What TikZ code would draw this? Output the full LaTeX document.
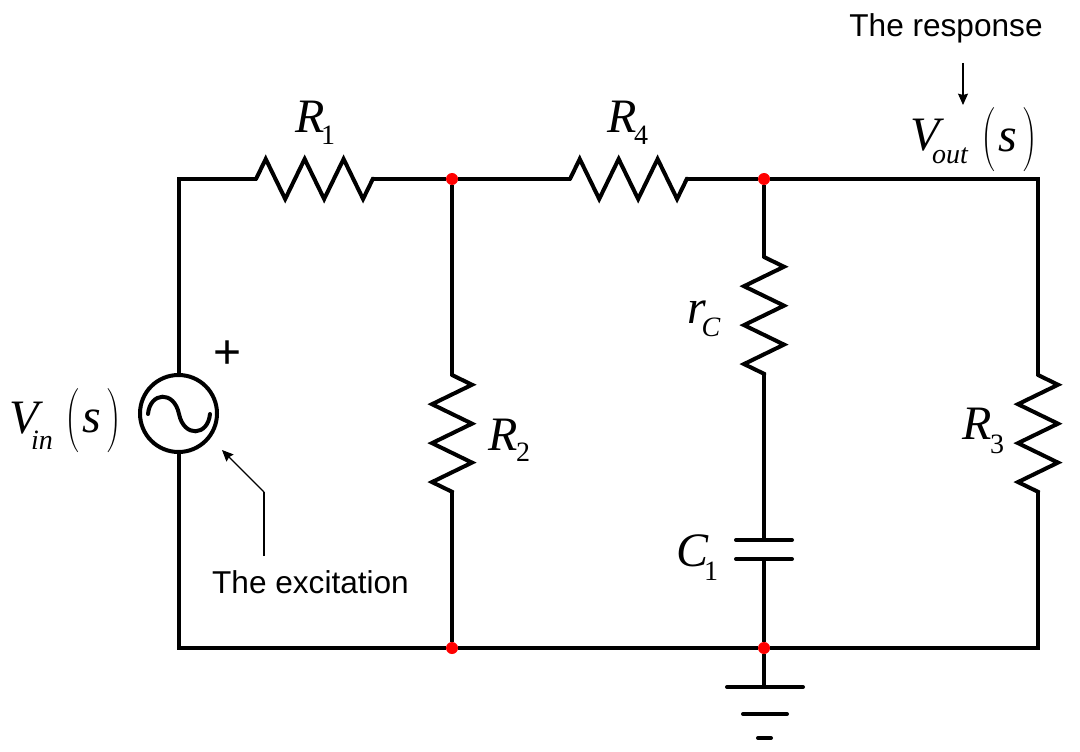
\documentclass[tikz,border=0pt]{standalone}
\usepackage{fontspec}
\setmainfont{Liberation Serif}
\newfontfamily\labelfont{Liberation Sans}
\usetikzlibrary{decorations.pathmorphing,arrows.meta}
\newcommand{\tallparen}[1]{\scalebox{1.3}[1.6]{$\Bigg#1$}}

\begin{document}
\begin{tikzpicture}
[x=0.75pt,y=-0.75pt,
  wiredecorate/.style={-,line width=3pt,line join=miter},%
  platedecorate/.style={wiredecorate,line cap=round},%
  resistordecorate/.style={platedecorate,decoration={zigzag,amplitude=15pt,segment length=29.2pt},decorate},%
  nodedecorate/.style={shape=circle,fill=red,inner sep=0pt,minimum size=9pt},%
  textdecorate/.style={inner sep=0pt,font=\labelfont\fontsize{23.7}{24}\selectfont},%
  symboldecorate/.style={inner sep=0pt,font=\itshape\fontsize{36}{36}\selectfont},%
  subdecorate/.style={inner sep=0pt,font=\itshape\fontsize{21}{21}\selectfont},%
  numdecorate/.style={inner sep=0pt,font=\fontsize{21}{21}\selectfont},%
  calloutdecorate/.style={line width=0.9pt,-{Stealth[length=8.5pt,width=7.5pt,inset=1pt]}}]
\useasboundingbox (0,0) rectangle (1080,752);
%% junctions and wire ends
\foreach \nodename/\x/\y in {J1/452/179, J2/764/179, J3/452/648, J4/764/648}
{
  \node (\nodename) at (\x,\y) [nodedecorate] {};
}
\foreach \nodename/\x/\y in {TL/179/179, TR/1038/179, BL/179/648, BR/1038/648,
  R1a/256/179, R1b/374/179, R4a/570/179, R4b/688/179,
  R2a/452/375, R2b/452/492, RCa/764/257, RCb/764/375, R3a/1038/375, R3b/1038/492,
  C1a/764/540, C1b/764/559, C1c/736/540, C1d/792/540, C1e/736/559, C1f/792/559,
  G1/764/687, G1a/727/687, G1b/803/687, G2a/743/714, G2b/787/714, G3a/758/738, G3b/771/738,
  ARa/264/556, ARb/264/492, ARc/222/450, ARd/963/63, ARe/963/105}
{
  \coordinate (\nodename) at (\x,\y);
}
%% source
\node (Vsrc) at (178.5,413.5) [shape=circle,draw,line width=3pt,inner sep=0pt,minimum size=57.75pt] {};
%% wires
\draw[wiredecorate] (Vsrc.north) -- (Vsrc.north |- TL) -- (R1a);
\draw[wiredecorate] (R1b) -- (J1);
\draw[wiredecorate] (J1) -- (R4a);
\draw[wiredecorate] (R4b) -- (J2);
\draw[wiredecorate] (J2) -- (TR) -- (R3a);
\draw[wiredecorate] (R3b) -- (BR) -- (J4);
\draw[wiredecorate] (J4) -- (J3);
\draw[wiredecorate] (J3) -- (Vsrc.south |- BL) -- (Vsrc.south);
\draw[wiredecorate] (J1) -- (R2a);
\draw[wiredecorate] (R2b) -- (J3);
\draw[wiredecorate] (J2) -- (RCa);
\draw[wiredecorate] (RCb) -- (C1a);
\draw[wiredecorate] (C1b) -- (J4);
\draw[wiredecorate] (J4) -- (G1);
%% resistors
\foreach \startnode/\endnode in {R1a/R1b, R4a/R4b, R2a/R2b, RCa/RCb, R3a/R3b}
{
  \draw[resistordecorate] (\startnode) -- (\endnode);
}
%% capacitor and ground
\foreach \startnode/\endnode in {C1c/C1d, C1e/C1f, G1a/G1b, G2a/G2b, G3a/G3b}
{
  \draw[platedecorate] (\startnode) -- (\endnode);
}
%% sine in the source
\draw[platedecorate] (148,414) .. controls (150,392) and (174,390) .. (179,414)
  .. controls (184,438) and (208,436) .. (210,414);
%% callouts
\draw[line width=0.9pt] (ARa) -- (ARb);
\draw[calloutdecorate] (ARb) -- (ARc);
\draw[calloutdecorate] (ARd) -- (ARe);
\node (Texc) at (310.5,582) [textdecorate] {The excitation};
\node (Tres) at (946,28) [textdecorate] {The response};
\node (Tplus) at (228,355) [inner sep=0pt,font=\labelfont\fontsize{36}{36}\selectfont] {+};
%% labels
\node (LR1) at (310,117) [symboldecorate] {R};
\node (LR1s) at (328,135) [numdecorate] {1};
\node (LR4) at (622,117) [symboldecorate] {R};
\node (LR4s) at (641,135) [numdecorate] {4};
\node (LR2) at (503,435) [symboldecorate] {R};
\node (LR2s) at (523,452) [numdecorate] {2};
\node (LR3) at (977,424) [symboldecorate] {R};
\node (LR3s) at (997,444) [numdecorate] {3};
\node (LrC) at (697,312) [symboldecorate] {r};
\node (LrCs) at (711,327) [subdecorate] {C};
\node (LC1) at (692,551) [symboldecorate] {C};
\node (LC1s) at (711,571) [numdecorate] {1};
\node (LV) at (24,418) [symboldecorate] {V};
\node (LVs) at (42,440) [subdecorate] {in};
\node (LVl) at (72,421) [inner sep=0pt] {\tallparen(};
\node (LVv) at (92,421) [symboldecorate] {s};
\node (LVr) at (114,421) [inner sep=0pt] {\tallparen)};
\node (LW) at (925,135) [symboldecorate] {V};
\node (LWs) at (950,156) [subdecorate] {out};
\node (LWl) at (988.5,140) [inner sep=0pt] {\tallparen(};
\node (LWv) at (1008,140) [symboldecorate] {s};
\node (LWr) at (1030,140) [inner sep=0pt] {\tallparen)};
\end{tikzpicture}
\end{document}
